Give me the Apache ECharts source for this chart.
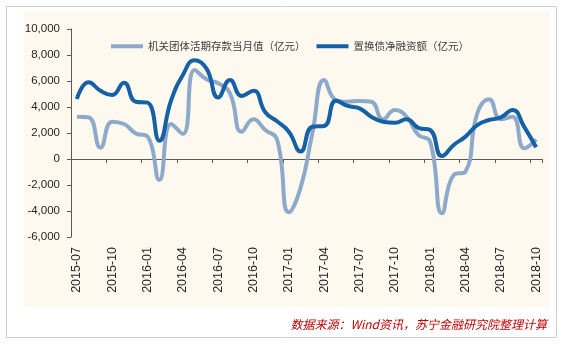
<!DOCTYPE html>
<html>
<head>
<meta charset="utf-8">
<script src="https://cdn.jsdelivr.net/npm/echarts@6/dist/echarts.min.js"></script>
<style>html,body{margin:0;padding:0;background:#fff;}#c{width:563px;height:346px;}</style>
</head>
<body>
<div id="c"></div>
<script>
const categories = [
  '2015-07','2015-08','2015-09','2015-10','2015-11','2015-12',
  '2016-01','2016-02','2016-03','2016-04','2016-05','2016-06',
  '2016-07','2016-08','2016-09','2016-10','2016-11','2016-12',
  '2017-01','2017-02','2017-03','2017-04','2017-05','2017-06',
  '2017-07','2017-08','2017-09','2017-10','2017-11','2017-12',
  '2018-01','2018-02','2018-03','2018-04','2018-05','2018-06',
  '2018-07','2018-08','2018-09','2018-10'
];
const seriesNames = ['机关团体活期存款当月值（亿元）', '置换债净融资额（亿元）'];
const demandDeposits = [
  3250, 3200, 870, 2870, 2690, 1970,
  1720, -1610, 2690, 1920, 6840, 6130,
  5820, 5050, 2100, 3050, 2230, 1500,
  -4100, -2200, 2000, 6080, 4540, 4410,
  4460, 4400, 3050, 3770, 3250, 1850,
  1330, -4180, -1230, -970, 3500, 4600,
  3050, 3250, 820, 1510
];
const swapBondFinancing = [
  4615, 5900, 5250, 4920, 5870, 4400,
  4330, 1410, 4500, 6460, 7600, 6970,
  4740, 6080, 4850, 5250, 3600, 2900,
  2100, 580, 2480, 2540, 4490, 4080,
  3900, 3250, 2870, 2790, 3050, 2400,
  2230, 230, 1080, 1720, 2610, 3000,
  3200, 3770, 2450, 900
];
const yMin = -6000, yMax = 10000, yStep = 2000;
const sourceText = '数据来源：Wind资讯，苏宁金融研究院整理计算';

const chart = echarts.init(document.getElementById('c'));
const latin = '"Liberation Sans", Arial, sans-serif';
const cjk = '"Noto Sans CJK SC", sans-serif';
chart.setOption({
  animation: false,
  backgroundColor: '#ffffff',
  graphic: [
    { type: 'rect', z: -10, shape: { x: 6.5, y: 6.5, width: 550, height: 331 },
      style: { fill: '#ffffff', stroke: '#cfcfcf', lineWidth: 1 } },
    { type: 'rect', z: -9, shape: { x: 24, y: 11, width: 526, height: 296 },
      style: { fill: '#fdf9ef' } },
    { type: 'text', z: 10, right: 16, top: 318,
      style: { text: sourceText, fill: '#c00000', font: 'italic 12px ' + cjk } }
  ],
  legend: {
    left: 106, top: 36, itemWidth: 32, itemHeight: 4, itemGap: 11,
    textStyle: { fontFamily: cjk, fontSize: 10.5, color: '#404040' },
    data: [{ name: seriesNames[0], icon: 'rect' }, { name: seriesNames[1], icon: 'rect' }]
  },
  grid: { left: 71, top: 29, right: 21, bottom: 109, containLabel: false, outerBoundsMode: 'none' },
  xAxis: {
    type: 'category', data: categories, boundaryGap: true,
    axisLine: { onZero: true, lineStyle: { color: '#595959', width: 1 } },
    axisTick: { show: true, interval: 2, length: 4, inside: false, lineStyle: { color: '#595959' } },
    axisLabel: { interval: 2, rotate: 90, margin: 10, fontFamily: latin, fontSize: 12.5, color: '#262626' },
    splitLine: { show: false }
  },
  yAxis: {
    type: 'value', min: yMin, max: yMax, interval: yStep,
    axisLine: { show: true, lineStyle: { color: '#595959', width: 1 } },
    axisTick: { show: true, length: 4, lineStyle: { color: '#595959' } },
    axisLabel: { margin: 11, fontFamily: latin, fontSize: 11.5, color: '#262626',
      formatter: v => v.toLocaleString('en-US') },
    splitLine: { show: false }
  },
  series: [
    { name: seriesNames[0], type: 'line', data: demandDeposits, smooth: 0.5, symbol: 'none',
      lineStyle: { color: '#8eaacb', width: 4 }, itemStyle: { color: '#8eaacb' } },
    { name: seriesNames[1], type: 'line', data: swapBondFinancing, smooth: 0.5, symbol: 'none',
      lineStyle: { color: '#1561a5', width: 4 }, itemStyle: { color: '#1561a5' } }
  ]
});
</script>
</body>
</html>
